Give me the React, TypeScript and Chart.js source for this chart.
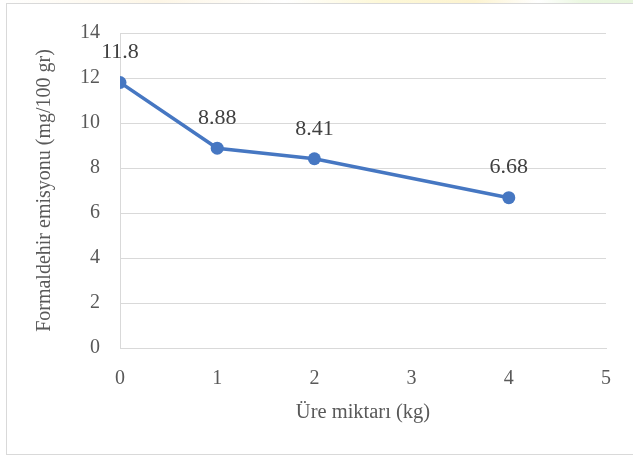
import React, { useEffect, useRef } from "react";
import { Chart, registerables } from "chart.js";

Chart.register(...registerables);

const xValues = [0, 1, 2, 4];
const yValues = [11.8, 8.88, 8.41, 6.68];
const dataLabels = ["11.8", "8.88", "8.41", "6.68"];
const yTitle = "Formaldehir emisyonu (mg/100 gr)";
const xTitle = "Üre miktarı (kg)";

const FONT = "'Liberation Serif', 'Times New Roman', serif";

const labelPlugin = {
  id: "pointLabels",
  afterDatasetsDraw(chart: any) {
    const meta = chart.getDatasetMeta(0);
    const ctx = chart.ctx;
    ctx.save();
    ctx.font = `22px ${FONT}`;
    ctx.fillStyle = "#404040";
    ctx.textAlign = "center";
    ctx.textBaseline = "middle";
    meta.data.forEach((pt: any, i: number) => {
      ctx.fillText(dataLabels[i], pt.x, pt.y - 30);
    });
    ctx.restore();
  },
};

export default function App() {
  const ref = useRef<HTMLCanvasElement>(null);
  useEffect(() => {
    if (!ref.current) return;
    const chart = new Chart(ref.current, {
      type: "line",
      data: {
        datasets: [
          {
            data: xValues.map((x, i) => ({ x, y: yValues[i] })),
            borderColor: "#4677C2",
            backgroundColor: "#4677C2",
            borderWidth: 3.5,
            pointRadius: 6.5,
            pointHoverRadius: 6.5,
            pointBorderWidth: 0,
            tension: 0,
          },
        ],
      },
      options: {
        animation: false,
        responsive: false,
        events: [],
        layout: { padding: { top: 33, right: 27, left: 0, bottom: 0 } },
        plugins: {
          legend: { display: false },
          tooltip: { enabled: false },
        },
        scales: {
          x: {
            type: "linear",
            min: 0,
            max: 5,
            afterFit: (s: any) => {
              s.height = 109;
            },
            ticks: {
              stepSize: 1,
              color: "#595959",
              font: { family: FONT, size: 20 },
              padding: 19,
            },
            grid: { display: false, drawTicks: false },
            border: { display: true, color: "#d9d9d9", width: 1 },
            title: {
              display: true,
              text: xTitle,
              color: "#595959",
              font: { family: FONT, size: 20.5 },
              padding: { top: 0, bottom: 32 },
            },
          },
          y: {
            min: 0,
            max: 14,
            afterFit: (s: any) => {
              s.width = 120;
            },
            ticks: {
              stepSize: 2,
              color: "#595959",
              font: { family: FONT, size: 20 },
              padding: 20,
            },
            grid: { color: "#d9d9d9", lineWidth: 1, drawTicks: false },
            border: { display: true, color: "#d9d9d9", width: 1 },
            title: {
              display: true,
              text: yTitle,
              color: "#595959",
              font: { family: FONT, size: 20 },
              padding: { top: 33, bottom: 0 },
            },
          },
        },
      },
      plugins: [labelPlugin],
    } as any);
    return () => chart.destroy();
  }, []);

  return (
    <div
      style={{
        position: "fixed",
        left: 0,
        top: 0,
        width: 633,
        height: 457,
        background: "#ffffff",
        overflow: "hidden",
      }}
    >
      <div
        style={{
          position: "absolute",
          left: 0,
          top: 0,
          width: 633,
          height: 4,
          background:
            "linear-gradient(90deg, #ffffff 0%, #fdf6e6 25%, #ffffff 45%, #fdf8d8 60%, #fcf3d0 75%, #ffffff 85%, #eaf7e0 92%, #e8f6de 100%)",
        }}
      />
      <div
        style={{
          position: "absolute",
          left: 6,
          top: 3,
          width: 700,
          height: 452,
          border: "1.5px solid #d9d9d9",
          boxSizing: "border-box",
        }}
      />
      <canvas
        ref={ref}
        width={633}
        height={457}
        style={{ position: "absolute", left: 0, top: 0, width: 633, height: 457 }}
      />
    </div>
  );
}
